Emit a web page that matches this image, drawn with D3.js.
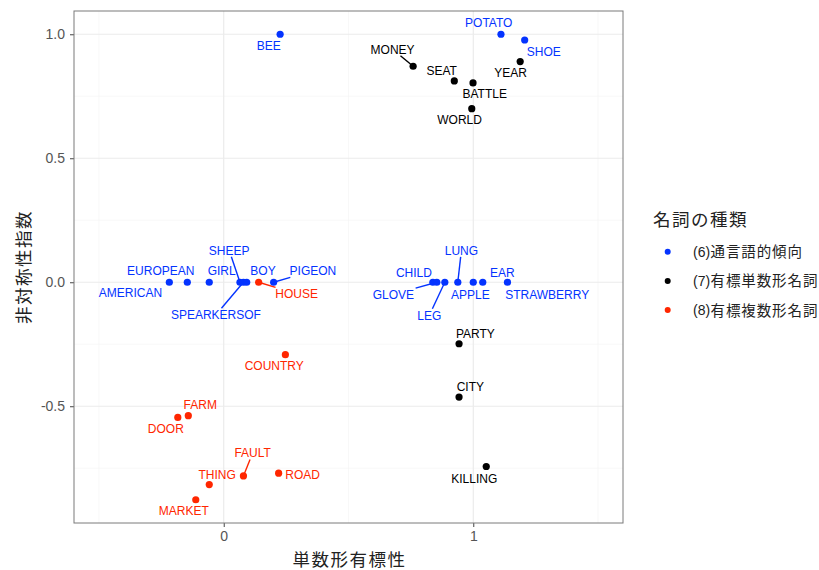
<!DOCTYPE html>
<html><head><meta charset="utf-8">
<script src="https://cdn.jsdelivr.net/npm/d3@7"></script>
<style>body{margin:0;background:#fff}</style>
</head><body><svg id="c" width="819" height="570"></svg>
<script>
// ---- data ----
const words = ["BEE","POTATO","SHOE","AMERICAN","EUROPEAN","GIRL","SHEEP","SPEARKERSOF","BOY","PIGEON",
  "CHILD","GLOVE","LEG","LUNG","APPLE","EAR","STRAWBERRY",
  "MONEY","SEAT","BATTLE","YEAR","WORLD","PARTY","CITY","KILLING",
  "HOUSE","COUNTRY","FARM","DOOR","FAULT","ROAD","THING","MARKET"];
const xValues = [0.226,1.111,1.206,-0.218,-0.146,-0.058,0.065,0.079,0.092,0.200,
  0.838,0.854,0.886,0.938,1.000,1.038,1.137,
  0.759,0.924,0.999,1.188,0.994,0.943,0.943,1.052,
  0.140,0.247,-0.142,-0.184,0.079,0.220,-0.058,-0.112];
const yValues = [1.0,1.0,0.977,0,0,0,0,0,0,0,
  0,0,0,0,0,0,0,
  0.871,0.812,0.804,0.890,0.700,-0.248,-0.463,-0.743,
  0,-0.292,-0.538,-0.545,-0.781,-0.770,-0.816,-0.877];
const groups = [0,0,0,0,0,0,0,0,0,0,0,0,0,0,0,0,0,
  1,1,1,1,1,1,1,1,
  2,2,2,2,2,2,2,2];
const groupPrefix = ["(6)","(7)","(8)"];
const groupNames = ["通言語的傾向","有標単数形名詞","有標複数形名詞"];
const legendTitle = "名詞の種類";
const xTitle = "単数形有標性";
const yTitle = "非対称性指数";
const xTicks = [0,1];
const xTickLabels = ["0","1"];
const yTicks = [-0.5,0,0.5,1.0];
const yTickLabels = ["-0.5","0.0","0.5","1.0"];
const xMinor = [-0.5,0.5,1.5];
const yMinor = [-0.75,-0.25,0.25,0.75];

// ---- label layout (pixel offsets of label centre from its point) ----
const labelDx = [-11.3,-12.2,19.1,-38.8,-26.5,12.4,-10.8,-27.5,16.3,39.3,
  -18.9,-43.4,-15.5,3.6,-2.8,19.5,39.7,
  -20.5,-12.6,11.7,-9.5,-12.2,16.3,11.3,-12,
  38,-11.1,12,-12,9.2,24,7.9,-12];
const labelDy = [11.3,-11.4,11.7,10.7,-11.3,-11.3,-32,32.5,-11.3,-11.3,
  -9.7,12,33,-31.8,12,-9.7,12,
  -17,-10,11.3,11.6,11.3,-10.5,-10.7,12.2,
  11.7,10.7,-11.3,11.3,-23,1,-10.3,11];
const labelSeg = ["SHEEP","SPEARKERSOF","PIGEON","HOUSE","GLOVE","LEG","LUNG","MONEY","FAULT"];

const colors = ["#0433FF","#000000","#FF2600"];

// ---- layout ----
const svg = d3.select("#c");
const P = {l:74, r:623, t:11, b:523};
const x = d3.scaleLinear().domain([-0.6,1.6]).range([P.l,P.r]);
const [ymin,ymax] = d3.extent(yValues);
const ex = (ymax-ymin)*0.05;
const y = d3.scaleLinear().domain([ymin-ex, ymax+ex]).range([P.b,P.t]);

svg.append("rect").attr("width",819).attr("height",570).attr("fill","#fff");
const g = svg.append("g");
g.selectAll(".xm").data(xMinor).join("line")
  .attr("x1",d=>x(d)).attr("x2",d=>x(d)).attr("y1",P.t).attr("y2",P.b)
  .attr("stroke","#f3f3f3").attr("stroke-width",0.6);
g.selectAll(".ym").data(yMinor).join("line")
  .attr("y1",d=>y(d)).attr("y2",d=>y(d)).attr("x1",P.l).attr("x2",P.r)
  .attr("stroke","#f3f3f3").attr("stroke-width",0.6);
g.selectAll(".xg").data(xTicks).join("line")
  .attr("x1",d=>x(d)).attr("x2",d=>x(d)).attr("y1",P.t).attr("y2",P.b)
  .attr("stroke","#ebebeb").attr("stroke-width",1.2);
g.selectAll(".yg").data(yTicks).join("line")
  .attr("y1",d=>y(d)).attr("y2",d=>y(d)).attr("x1",P.l).attr("x2",P.r)
  .attr("stroke","#ebebeb").attr("stroke-width",1.2);

const fontLatin = "'Liberation Sans', Arial, sans-serif";
const xAxis = svg.append("g").attr("transform",`translate(0,${P.b})`)
  .call(d3.axisBottom(x).tickValues(xTicks).tickFormat((d,i)=>xTickLabels[i]).tickSize(4).tickPadding(4));
const yAxis = svg.append("g").attr("transform",`translate(${P.l},0)`)
  .call(d3.axisLeft(y).tickValues(yTicks).tickFormat((d,i)=>yTickLabels[i]).tickSize(4).tickPadding(5));
[xAxis,yAxis].forEach(a=>{
  a.select(".domain").remove();
  a.selectAll(".tick line").attr("stroke","#444").attr("stroke-width",1);
  a.selectAll(".tick text").attr("fill","#555").style("font-family",fontLatin).style("font-size","14px");
});

svg.append("rect").attr("x",P.l).attr("y",P.t).attr("width",P.r-P.l).attr("height",P.b-P.t)
  .attr("fill","none").attr("stroke","#7a7a7a").attr("stroke-width",1);

const idx = d3.range(words.length);
const lab = svg.append("g").style("font-family",fontLatin).style("font-size","12px");
const segG = svg.append("g");
idx.forEach(i=>{
  const px = x(xValues[i]), py = y(yValues[i]);
  const cx = px + labelDx[i], cy = py + labelDy[i];
  const t = lab.append("text").attr("x",cx).attr("y",cy).attr("dy","0.36em")
    .attr("text-anchor","middle").attr("fill",colors[groups[i]]).text(words[i]);
  if (labelSeg.includes(words[i])) {
    const bb = t.node().getBBox();
    const hw = bb.width/2 + 1.5, hh = 6.5;
    const vx = px-cx, vy = py-cy;
    const s = Math.min(vx===0?Infinity:hw/Math.abs(vx), vy===0?Infinity:hh/Math.abs(vy));
    segG.append("line").attr("x1",px).attr("y1",py)
      .attr("x2",cx+vx*s).attr("y2",cy+vy*s)
      .attr("stroke",colors[groups[i]]).attr("stroke-width",1.4);
  }
});

svg.append("g").selectAll("circle").data(idx).join("circle")
  .attr("cx",i=>x(xValues[i])).attr("cy",i=>y(yValues[i])).attr("r",3.6)
  .attr("fill",i=>colors[groups[i]]);

const fontCJK = "'Noto Sans CJK JP', 'Noto Sans CJK SC', sans-serif";
svg.append("text").attr("x",(P.l+P.r)/2+1).attr("y",566).attr("text-anchor","middle")
  .style("font-family",fontCJK).style("font-size","17.5px").style("letter-spacing","1.5px")
  .attr("fill","#222").text(xTitle);
svg.append("text").attr("transform",`translate(30,${(P.t+P.b)/2}) rotate(-90)`).attr("text-anchor","middle")
  .style("font-family",fontCJK).style("font-size","17.5px").style("letter-spacing","1.5px")
  .attr("fill","#222").text(yTitle);

svg.append("text").attr("x",653).attr("y",226)
  .style("font-family",fontCJK).style("font-size","17.5px").style("letter-spacing","1.5px")
  .attr("fill","#222").text(legendTitle);
const lg = svg.append("g").selectAll("g").data(groupNames).join("g")
  .attr("transform",(d,i)=>`translate(0,${251.7+i*29.2})`);
lg.append("circle").attr("cx",667.7).attr("cy",0).attr("r",3).attr("fill",(d,i)=>colors[i]);
lg.append("text").attr("x",693).attr("y",5).attr("fill","#222")
  .style("font-family",fontLatin).style("font-size","14px").text((d,i)=>groupPrefix[i]);
lg.append("text").attr("x",710.5).attr("y",5.5).attr("fill","#222")
  .style("font-family",fontCJK).style("font-size","14.5px").style("letter-spacing","0.9px").text(d=>d);
</script></body></html>
